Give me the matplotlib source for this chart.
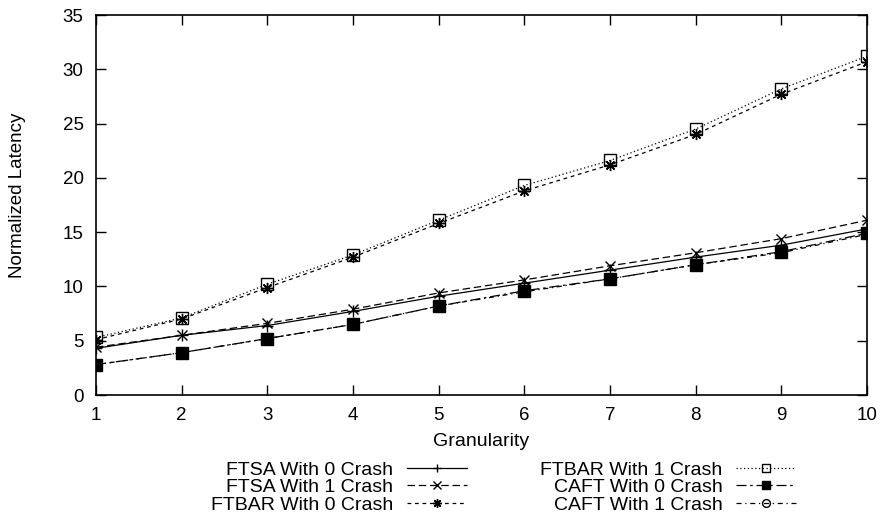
import matplotlib
matplotlib.use("Agg")
import matplotlib.pyplot as plt

plt.rcParams['font.family'] = ['Liberation Sans', 'DejaVu Sans']

granularity = [1, 2, 3, 4, 5, 6, 7, 8, 9, 10]
ftsa_0 = [4.3, 5.5, 6.4, 7.7, 9.1, 10.3, 11.5, 12.7, 13.8, 15.3]
ftsa_1 = [4.4, 5.5, 6.6, 7.9, 9.4, 10.6, 11.9, 13.1, 14.4, 16.1]
ftbar_0 = [5.1, 7.0, 9.9, 12.7, 15.8, 18.8, 21.2, 24.0, 27.7, 30.7]
ftbar_1 = [5.3, 7.1, 10.2, 12.9, 16.1, 19.3, 21.6, 24.5, 28.2, 31.2]
caft_0 = [2.8, 3.9, 5.2, 6.5, 8.2, 9.6, 10.7, 12.0, 13.2, 14.9]
caft_1 = [2.8, 3.9, 5.2, 6.5, 8.2, 9.5, 10.7, 12.0, 13.1, 14.8]

labels = ["FTSA With 0 Crash", "FTSA With 1 Crash", "FTBAR With 0 Crash",
          "FTBAR With 1 Crash", "CAFT With 0 Crash", "CAFT With 1 Crash"]
yticks = [0, 5, 10, 15, 20, 25, 30, 35]

fig = plt.figure(figsize=(8.85, 5.21), dpi=100)
ax = fig.add_axes([96/885, 1-395/521, (867-96)/885, (395-15)/521])

lw = 0.9
ms = 8
h = []
h += ax.plot(granularity, ftsa_0, color='black', lw=lw, ls='-', marker='+', ms=ms, mew=1)
h += ax.plot(granularity, ftsa_1, color='black', lw=lw, ls=(0, (6, 3)), marker='x', ms=ms - 1, mew=1)
h += ax.plot(granularity, ftbar_0, color='black', lw=lw, ls=(0, (3, 3)), marker=(8, 2, 0), ms=ms, mew=1)
h += ax.plot(granularity, ftbar_1, color='black', lw=lw, ls=(0, (1, 2)), marker='s', ms=ms, mew=1, mfc='none')
h += ax.plot(granularity, caft_0, color='black', lw=lw, ls=(0, (8, 3, 2, 3)), marker='s', ms=ms, mew=1)
h += ax.plot(granularity, caft_1, color='black', lw=lw, ls=(0, (4, 3, 1, 3)), marker='o', ms=ms - 1, mew=1, mfc='none')

ax.set_xlim(1, 10)
ax.set_ylim(0, 35)
ax.set_xticks(granularity)
ax.set_yticks(yticks)
ax.tick_params(direction='in', top=True, right=True, length=7, width=1, labelsize=13.5, pad=9)
for s in ax.spines.values():
    s.set_linewidth(1.2)
fig.text(18/885, 1-195/521, "Normalized Latency", rotation=90, ha='center', va='center', fontsize=13.5)
fig.text(481/885, 1-441/521, "Granularity", ha='center', va='center', fontsize=14)

leg = fig.legend(h, labels, ncol=2, markerfirst=False, frameon=False, fontsize=14,
                 loc='upper left', bbox_to_anchor=(211/885, 1-461/521),
                 handlelength=3.1, handletextpad=0.7, columnspacing=3.75,
                 labelspacing=0.0, borderaxespad=0, borderpad=0, markerscale=0.8)
for t in leg.get_texts():
    t.set_ha('right')

fig.savefig("out.png", dpi=100)
